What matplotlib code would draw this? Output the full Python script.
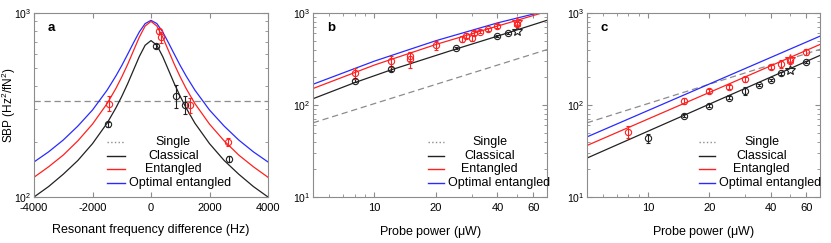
import matplotlib
matplotlib.use('Agg')
import matplotlib.pyplot as plt
from matplotlib.ticker import FixedLocator, NullFormatter, LogLocator

plt.rcParams['font.family'] = ['Liberation Sans', 'DejaVu Sans']
plt.rcParams['mathtext.default'] = 'regular'
plt.rcParams['axes.unicode_minus'] = False

RED = '#ff2020'
BLUE = '#2a2aff'
BLACK = '#222222'
GRAY = '#8c8c8c'

# ---- panel a: SBP vs resonant frequency difference ----
freq = [-4000, -3500, -3000, -2500, -2000, -1500, -1200, -1000, -800, -600, -400, -200, 0,
        200, 400, 600, 800, 1000, 1200, 1500, 2000, 2500, 3000, 3500, 4000]
a_optimal = [155, 176, 204, 243, 297, 381, 455, 518, 596, 688, 789, 876, 912,
             876, 789, 688, 596, 518, 455, 381, 297, 243, 204, 176, 155]
a_entangled = [128, 146, 169, 202, 249, 322, 389, 449, 525, 623, 739, 850, 900,
               850, 739, 623, 525, 449, 389, 322, 249, 202, 169, 146, 128]
a_classical = [100, 114, 133, 158, 195, 252, 305, 352, 412, 489, 580, 668, 708,
               668, 580, 489, 412, 352, 305, 252, 195, 158, 133, 114, 100]
a_single = 334

a_cls_x = [-1480, 170, 860, 1170, 2660]
a_cls_y = [248, 660, 355, 318, 161]
a_cls_err = [8, 15, 52, 35, 6]
a_ent_x = [-1430, 260, 340, 1340, 2630]
a_ent_y = [322, 795, 740, 316, 199]
a_ent_err = [30, 22, 50, 30, 9]

# ---- panel b: SBP vs probe power ----
b_power = [5, 8, 12, 25, 40, 70]
b_classical = [117, 175, 240, 405, 560, 833]
b_pw_ent = [5, 10, 20, 40, 66, 70]
b_entangled = [151, 272, 455, 720, 1000, 1040]
b_pw_opt = [5, 10, 20, 40, 63, 70]
b_optimal = [168, 300, 500, 780, 1000, 1070]
b_pw_single = [5, 70]
b_single = [64, 400]

b_cls_x = [8, 12.1, 25, 40, 45]
b_cls_y = [184, 246, 415, 564, 612]
b_cls_err = [8, 10, 10, 15, 15]
b_cls_star = (50, 644)
b_ent_x = [8, 12.1, 15, 15, 20, 26.9, 28, 30.1, 30.6, 32.9, 35.9, 40, 50]
b_ent_y = [223, 298, 338, 315, 451, 519, 564, 532, 603, 628, 665, 723, 760]
b_ent_err = [30, 40, 40, 60, 50, 40, 35, 40, 30, 25, 25, 30, 35]
b_ent_star = (50, 806)

# ---- panel c: SBP vs probe power ----
c_power = [5, 70]
c_classical = [26.5, 346]
c_entangled = [36.3, 455]
c_optimal = [45, 560]
c_single = [64, 403]

c_cls_x = [10, 15, 20, 25, 30, 35, 40, 45, 60]
c_cls_y = [43.5, 76.6, 98.4, 120, 142, 165, 187, 220, 294]
c_cls_err = [5, 3, 4, 5, 14, 5, 5, 6, 8]
c_cls_star = (50, 239)
c_ent_x = [8, 15, 20, 25, 30, 40, 45, 50, 60]
c_ent_y = [51.4, 111, 142, 158, 190, 260, 282, 307, 378]
c_ent_err = [8, 8, 8, 8, 10, 15, 30, 25, 25]
c_ent_star = (50, 320)


def style_axes(ax):
    for sp in ax.spines.values():
        sp.set_color(GRAY)
        sp.set_linewidth(0.8)
    ax.tick_params(which='both', direction='in', top=True, right=True,
                   color=GRAY, labelsize=8, pad=4.5)
    ax.tick_params(axis='y', labelsize=7.5, pad=2)
    ax.tick_params(which='major', length=3.5)
    ax.tick_params(which='minor', length=2)
    ax.yaxis.set_minor_formatter(NullFormatter())


def add_legend(ax, x0, x1, xt):
    rows = [('Single', GRAY, ':'), ('Classical', BLACK, '-'),
            ('Entangled', RED, '-'), ('Optimal entangled', BLUE, '-')]
    ys = [0.297, 0.224, 0.150, 0.077]
    for (label, col, ls), yy in zip(rows, ys):
        ax.plot([x0, x1], [yy, yy], color=col, ls=ls, lw=1.0,
                transform=ax.transAxes)
        if label == 'Optimal entangled':
            ax.text(x1 + 0.015, yy, label, ha='left', va='center',
                    fontsize=9, transform=ax.transAxes)
        else:
            ax.text(xt, yy, label, ha='center', va='center',
                    fontsize=9, transform=ax.transAxes)


def points(ax, x, y, err, color, star=None):
    ax.errorbar(x, y, yerr=err, fmt='o', mfc='none', mec=color, ecolor=color,
                ms=4.5, mew=0.8, elinewidth=0.8, capsize=1.5, capthick=0.8)
    if star is not None:
        ax.plot([star[0]], [star[1]], marker='*', mfc='none', mec=color,
                mew=0.8, ms=7, ls='none')


fig = plt.figure(figsize=(8.31, 2.43), dpi=100)
W, H = 831.0, 243.0
ax_a = fig.add_axes([34 / W, 1 - 197 / H, 234 / W, 184 / H])
ax_b = fig.add_axes([313 / W, 1 - 197 / H, 234 / W, 184 / H])
ax_c = fig.add_axes([587 / W, 1 - 197 / H, 233 / W, 184 / H])

# panel a
ax = ax_a
ax.set_yscale('log')
ax.axhline(a_single, color=GRAY, ls=(0, (5, 3)), lw=0.9)
ax.plot(freq, a_optimal, color=BLUE, lw=0.9)
ax.plot(freq, a_entangled, color=RED, lw=0.9)
ax.plot(freq, a_classical, color=BLACK, lw=0.9)
points(ax, a_cls_x, a_cls_y, a_cls_err, BLACK)
points(ax, a_ent_x, a_ent_y, a_ent_err, RED)
ax.set_xlim(-4000, 4000)
ax.set_ylim(100, 1000)
ax.set_xticks([-4000, -2000, 0, 2000, 4000])
ax.set_xlabel('Resonant frequency difference (Hz)', fontsize=9, labelpad=8)
ax.set_ylabel('SBP (Hz$^2$/fN$^2$)', fontsize=8.5)
ax.yaxis.set_label_coords(-0.07, 0.5)
style_axes(ax)
add_legend(ax, 0.31, 0.39, 0.595)
ax.text(0.06, 0.92, 'a', transform=ax.transAxes, fontsize=9.5,
        fontweight='bold', va='center')

# panel b
ax = ax_b
ax.set_xscale('log')
ax.set_yscale('log')
ax.plot(b_pw_single, b_single, color=GRAY, ls=(0, (5, 3)), lw=0.9)
ax.plot(b_pw_opt, b_optimal, color=BLUE, lw=0.9)
ax.plot(b_pw_ent, b_entangled, color=RED, lw=0.9)
ax.plot(b_power, b_classical, color=BLACK, lw=0.9)
points(ax, b_cls_x, b_cls_y, b_cls_err, BLACK, b_cls_star)
points(ax, b_ent_x, b_ent_y, b_ent_err, RED, b_ent_star)
ax.text(0.06, 0.92, 'b', transform=ax.transAxes, fontsize=9.5,
        fontweight='bold', va='center')
add_legend(ax, 0.49, 0.56, 0.755)

# panel c
ax = ax_c
ax.set_xscale('log')
ax.set_yscale('log')
ax.plot(c_power, c_single, color=GRAY, ls=(0, (5, 3)), lw=0.9)
ax.plot(c_power, c_optimal, color=BLUE, lw=0.9)
ax.plot(c_power, c_entangled, color=RED, lw=0.9)
ax.plot(c_power, c_classical, color=BLACK, lw=0.9)
points(ax, c_cls_x, c_cls_y, c_cls_err, BLACK, c_cls_star)
points(ax, c_ent_x, c_ent_y, c_ent_err, RED, c_ent_star)
ax.text(0.06, 0.92, 'c', transform=ax.transAxes, fontsize=9.5,
        fontweight='bold', va='center')
add_legend(ax, 0.48, 0.55, 0.75)

for ax in (ax_b, ax_c):
    ax.set_xlim(5, 70)
    ax.set_ylim(10, 1000)
    style_axes(ax)
    ax.xaxis.set_major_locator(FixedLocator([10, 20, 40, 60]))
    ax.xaxis.set_major_formatter(plt.FuncFormatter(lambda v, p: '%d' % v))
    ax.xaxis.set_minor_locator(LogLocator(base=10, subs=range(2, 10)))
    ax.xaxis.set_minor_formatter(NullFormatter())
    ax.set_xlabel('Probe power ($\\mu$W)', fontsize=9, labelpad=8)

fig.savefig('out.png', dpi=100)
